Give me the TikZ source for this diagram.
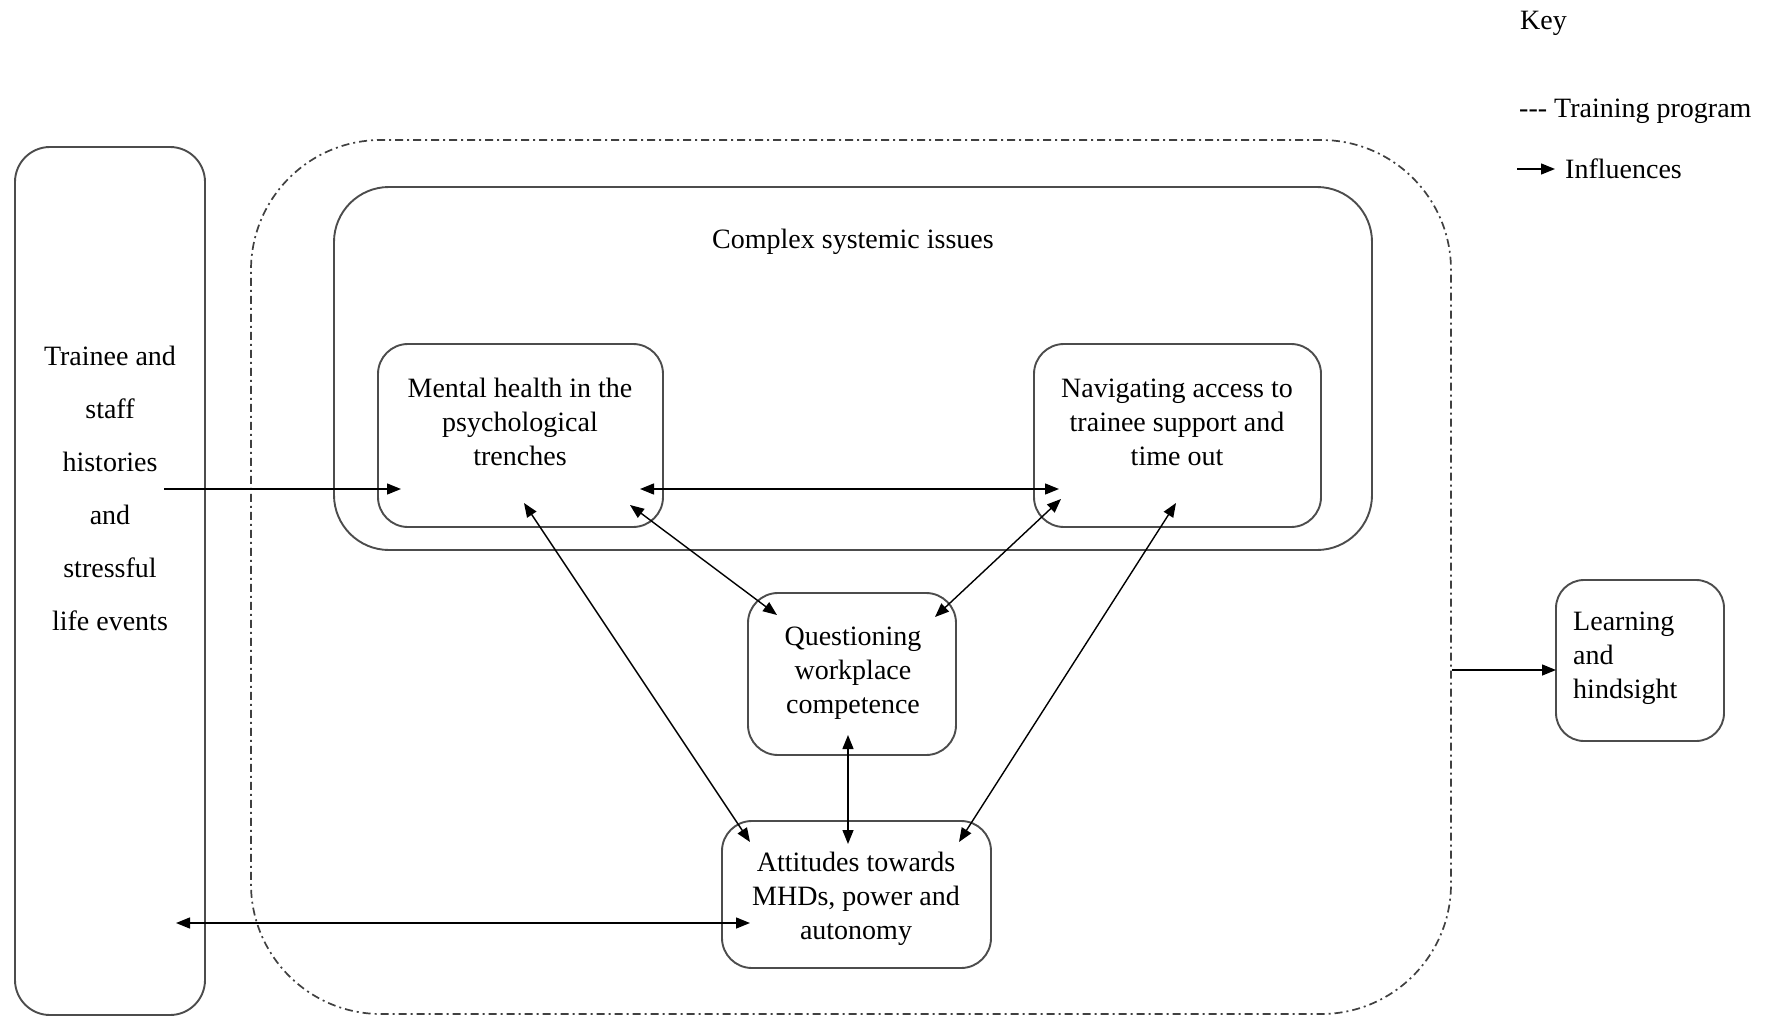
\documentclass[tikz,border=0pt]{standalone}
\usepackage{fontspec}
\setmainfont{Liberation Serif}
\usetikzlibrary{arrows.meta}
\begin{document}
\begin{tikzpicture}[x=1pt,y=-1pt,
 box/.style={draw=black!70,line width=1.9pt,rounded corners=#1,inner sep=0pt},
 box/.default=30pt,
 txt/.style={font=\fontsize{28}{34}\selectfont,align=center,inner sep=0pt},
 arr/.style={line width=1.4pt,-{Triangle[length=14pt,width=11pt]}},
 darr/.style={line width=1.4pt,{Triangle[length=14pt,width=11pt]}-{Triangle[length=14pt,width=11pt]}},
 prog/.style={draw=black!75,line width=1.7pt,rounded corners=130pt,dash pattern=on 8pt off 4pt on 2pt off 4pt,inner sep=0pt}]
\useasboundingbox (0,0) rectangle (1778,1017);

% boxes
\node[box=35pt,minimum width=190pt,minimum height=868pt] (trainee) at (110,581) {};
\node[prog,minimum width=1200pt,minimum height=874pt] (program) at (851,577) {};
\node[box=55pt,minimum width=1038pt,minimum height=363pt] (complex) at (853,368.5) {};
\node[box,minimum width=285pt,minimum height=183pt] (mental) at (520.5,435.5) {};
\node[box,minimum width=287pt,minimum height=183pt] (navig) at (1177.5,435.5) {};
\node[box,minimum width=208pt,minimum height=162pt] (quest) at (852,674) {};
\node[box,minimum width=269pt,minimum height=147pt] (attit) at (856.5,894.5) {};
\node[box=28pt,minimum width=168pt,minimum height=161pt] (learn) at (1640,660.5) {};

% texts
\node[txt,font=\fontsize{28}{53}\selectfont] (traineeT) at (110,488) {Trainee and\\staff\\histories\\and\\stressful\\life events};
\node[txt] (complexT) at (853,242) {Complex systemic issues};
\node[txt] (mentalT) at (520,422) {Mental health in the\\psychological\\trenches};
\node[txt] (navigT) at (1177,422) {Navigating access to\\trainee support and\\time out};
\node[txt] (questT) at (853,673) {Questioning\\workplace\\competence};
\node[txt] (attitT) at (856,899) {Attitudes towards\\MHDs, power and\\autonomy};
\node[txt,align=left,anchor=west] (learnT) at (1573,658) {Learning\\and\\hindsight};

% key
\node[txt,anchor=west] (key) at (1520,23) {Key};
\node[txt,anchor=west] (keyprog) at (1519,111) {-{}-{}- Training program};
\node[txt,anchor=west] (keyinfl) at (1565,169) {Influences};
\coordinate (kA) at (1517,169);
\coordinate (kB) at (1555,169);
\draw[arr] (kA) -- (kB);

% connector end points
\coordinate (t1) at (164,489);
\coordinate (m1) at (401,489);
\coordinate (m2) at (640,489);
\coordinate (n2) at (1059,489);
\coordinate (m3) at (630,505);
\coordinate (q3) at (777,615);
\coordinate (n4) at (1061,499);
\coordinate (q4) at (935,617);
\coordinate (q5) at (848,735);
\coordinate (a5) at (848,844);
\coordinate (m6) at (524,503);
\coordinate (a6) at (750,842);
\coordinate (n7) at (1176,503);
\coordinate (a7) at (959,842);
\coordinate (t8) at (176,923);
\coordinate (a8) at (750,923);
\coordinate (p9) at (1452,670);
\coordinate (l9) at (1556,670);

\draw[arr] (t1) -- (m1);
\draw[darr] (m2) -- (n2);
\draw[darr] (m3) -- (q3);
\draw[darr] (n4) -- (q4);
\draw[darr] (q5) -- (a5);
\draw[darr] (m6) -- (a6);
\draw[darr] (n7) -- (a7);
\draw[darr] (t8) -- (a8);
\draw[arr] (p9) -- (l9);
\end{tikzpicture}
\end{document}
